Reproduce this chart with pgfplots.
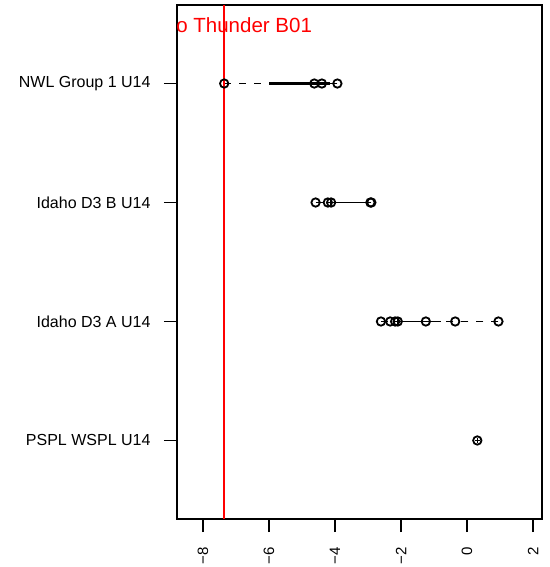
\documentclass[border=0pt]{standalone}
\usepackage{fontspec}
\setmainfont{Liberation Sans}
\usepackage{pgfplots}
\pgfplotsset{compat=1.18}
\begin{document}
\begin{tikzpicture}
\begin{axis}[
  at={(0,0)}, anchor=south west, scale only axis,
  width=365bp, height=514bp,
  xmin=-8.79, xmax=2.27, ymin=0.34, ymax=4.66,
  xtick={-8,-6,-4,-2,0,2}, xticklabels={−8,−6,−4,−2,0,2},
  ytick={1,2,3,4},
  yticklabels={PSPL WSPL U14, Idaho D3 A U14, Idaho D3 B U14, NWL Group 1 U14},
  tick align=outside, major tick length=13bp,
  xtick pos=left, ytick pos=left,
  tick style={black, line width=1.4bp},
  axis line style={black, line width=1.4bp},
  xticklabel style={rotate=90, anchor=east, xshift=-12bp, font=\fontsize{15bp}{18bp}\selectfont},
  yticklabel style={anchor=east, xshift=-10bp, font=\fontsize{16bp}{19bp}\selectfont},
  clip=true,
  whisk/.style={black, line width=1.6bp, dash pattern=on 7bp off 8bp},
  boxl/.style={black, line width=1.6bp},
  pts/.style={only marks, mark=o, mark size=4.2bp, mark options={line width=1.8bp, black}},
  med/.style={only marks, mark=|, mark size=2.2bp, mark options={line width=1.6bp, black}},
]
% NWL Group 1 U14
\addplot[whisk] coordinates {(-7.36,4) (-5.995,4)};
\addplot[boxl, line width=2.5bp] coordinates {(-5.995,4) (-4.165,4)};
\addplot[whisk] coordinates {(-3.93,4) (-4.165,4)};
\addplot[med] coordinates {(-4.515,4)};
\addplot[pts] coordinates {(-7.36,4) (-4.63,4) (-4.40,4) (-3.93,4)};
% Idaho D3 B U14
\addplot[whisk] coordinates {(-4.59,3) (-4.22,3)};
\addplot[boxl] coordinates {(-4.22,3) (-2.93,3)};
\addplot[whisk] coordinates {(-2.90,3) (-2.93,3)};
\addplot[med] coordinates {(-4.12,3)};
\addplot[pts] coordinates {(-4.59,3) (-4.22,3) (-4.12,3) (-2.93,3) (-2.90,3)};
% Idaho D3 A U14
\addplot[whisk] coordinates {(-2.61,2) (-2.255,2)};
\addplot[boxl] coordinates {(-2.255,2) (-0.805,2)};
\addplot[whisk] coordinates {(0.95,2) (-0.805,2)};
\addplot[med] coordinates {(-2.10,2)};
\addplot[pts] coordinates {(-2.61,2) (-2.33,2) (-2.18,2) (-2.10,2) (-1.25,2) (-0.36,2) (0.95,2)};
% PSPL WSPL U14
\addplot[only marks, mark=+, mark size=2.2bp, mark options={line width=1.5bp, black}] coordinates {(0.31,1)};
\addplot[pts] coordinates {(0.31,1)};
% reference line
\addplot[red, line width=2bp] coordinates {(-7.36,0.34) (-7.36,4.66)};
\node[red, anchor=base, inner sep=0pt, font=\fontsize{20.5bp}{24bp}\selectfont] at (axis cs:-7.36,4.425) {Idaho Thunder B01};
\end{axis}
\pgfresetboundingbox
\path (-177bp,-48bp) rectangle (373bp,519bp);
\end{tikzpicture}
\end{document}
